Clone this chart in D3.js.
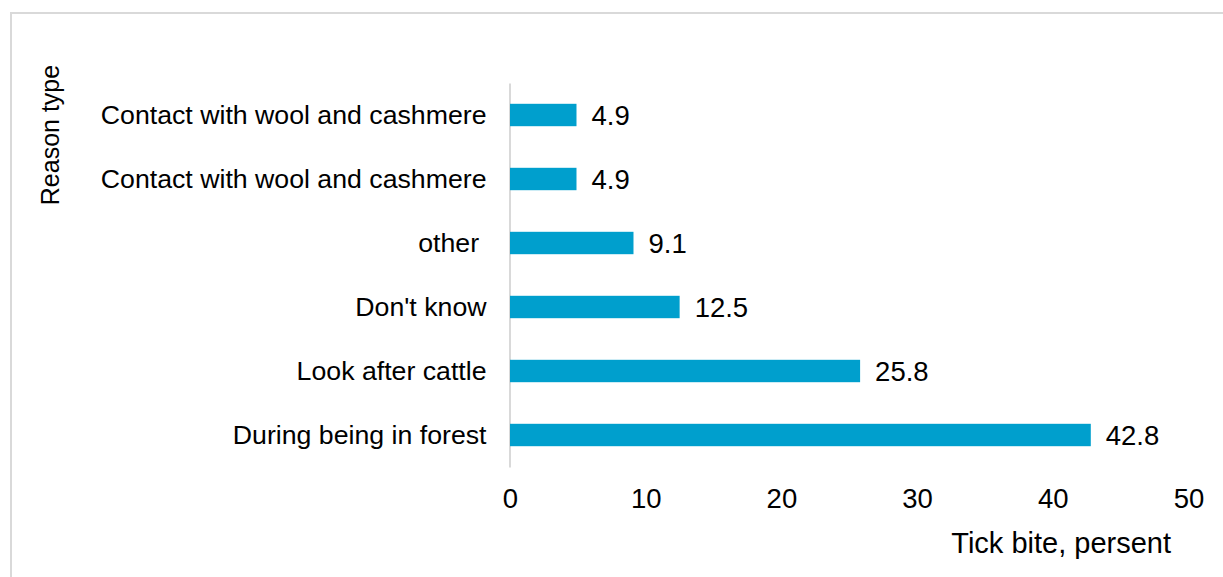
<!DOCTYPE html>
<html>
<head>
<meta charset="utf-8">
<script src="https://cdn.jsdelivr.net/npm/d3@7"></script>
<style>
  html, body { margin: 0; padding: 0; background: #fff; }
  svg { display: block; font-family: "Liberation Sans", Arial, sans-serif; }
  text { white-space: pre; }
</style>
</head>
<body>
<svg id="chart" width="1223" height="577"></svg>
<script>
const categories = [
  "Contact with wool and cashmere",
  "Contact with wool and cashmere",
  "other ",
  "Don't know",
  "Look after cattle",
  "During being in forest"
];
const values = [4.9, 4.9, 9.1, 12.5, 25.8, 42.8];
const xTicks = [0, 10, 20, 30, 40, 50];
const xTitle = "Tick bite, persent";
const yTitle = "Reason type";

const svg = d3.select("#chart");
const barColor = "#009fcd";
const gridColor = "#d9d9d9";

// frame
svg.append("rect")
  .attr("x", 11).attr("y", 13)
  .attr("width", 1240).attr("height", 600)
  .attr("fill", "none")
  .attr("stroke", gridColor)
  .attr("stroke-width", 2);

const x = d3.scaleLinear().domain([0, 50]).range([510, 1188.5]);
const idx = categories.map((d, i) => i);
const y = d3.scaleBand().domain(idx).range([83, 467]).paddingInner(0.65).paddingOuter(0.325);

// x axis (labels only)
const xAxis = svg.append("g")
  .attr("transform", "translate(0,485)")
  .call(d3.axisBottom(x).tickValues(xTicks).tickSize(0).tickPadding(0).tickFormat(d3.format("d")));
xAxis.select(".domain").remove();
xAxis.selectAll("text")
  .attr("dy", "0.71em")
  .attr("y", 3)
  .attr("fill", "#000")
  .style("font-size", "27.5px")
  .style("font-family", "'Liberation Sans', Arial, sans-serif");

// y axis
const yAxis = svg.append("g")
  .attr("transform", "translate(509.5,0)")
  .call(d3.axisLeft(y).tickSize(0).tickPadding(23).tickFormat(i => categories[i]));
yAxis.select(".domain").attr("stroke", gridColor).attr("stroke-width", 2);
yAxis.selectAll("text")
  .attr("fill", "#000")
  .style("font-size", "26.7px")
  .style("font-family", "'Liberation Sans', Arial, sans-serif");

// bars
svg.append("g").selectAll("rect")
  .data(values)
  .join("rect")
  .attr("x", x(0))
  .attr("y", (d, i) => y(i))
  .attr("width", d => x(d) - x(0))
  .attr("height", y.bandwidth())
  .attr("fill", barColor);

// value labels
svg.append("g").selectAll("text")
  .data(values)
  .join("text")
  .attr("x", d => x(d) + 15)
  .attr("y", (d, i) => y(i) + y.bandwidth() / 2)
  .attr("dy", "0.36em")
  .style("font-size", "27.5px")
  .attr("fill", "#000")
  .text(d => d3.format(".1f")(d));

// axis titles
svg.append("text")
  .attr("x", 1171)
  .attr("y", 553)
  .attr("text-anchor", "end")
  .style("font-size", "29px")
  .attr("fill", "#000")
  .text(xTitle);

svg.append("text")
  .attr("transform", "translate(59,135) rotate(-90)")
  .attr("text-anchor", "middle")
  .style("font-size", "25px")
  .attr("fill", "#000")
  .text(yTitle);
</script>
</body>
</html>
